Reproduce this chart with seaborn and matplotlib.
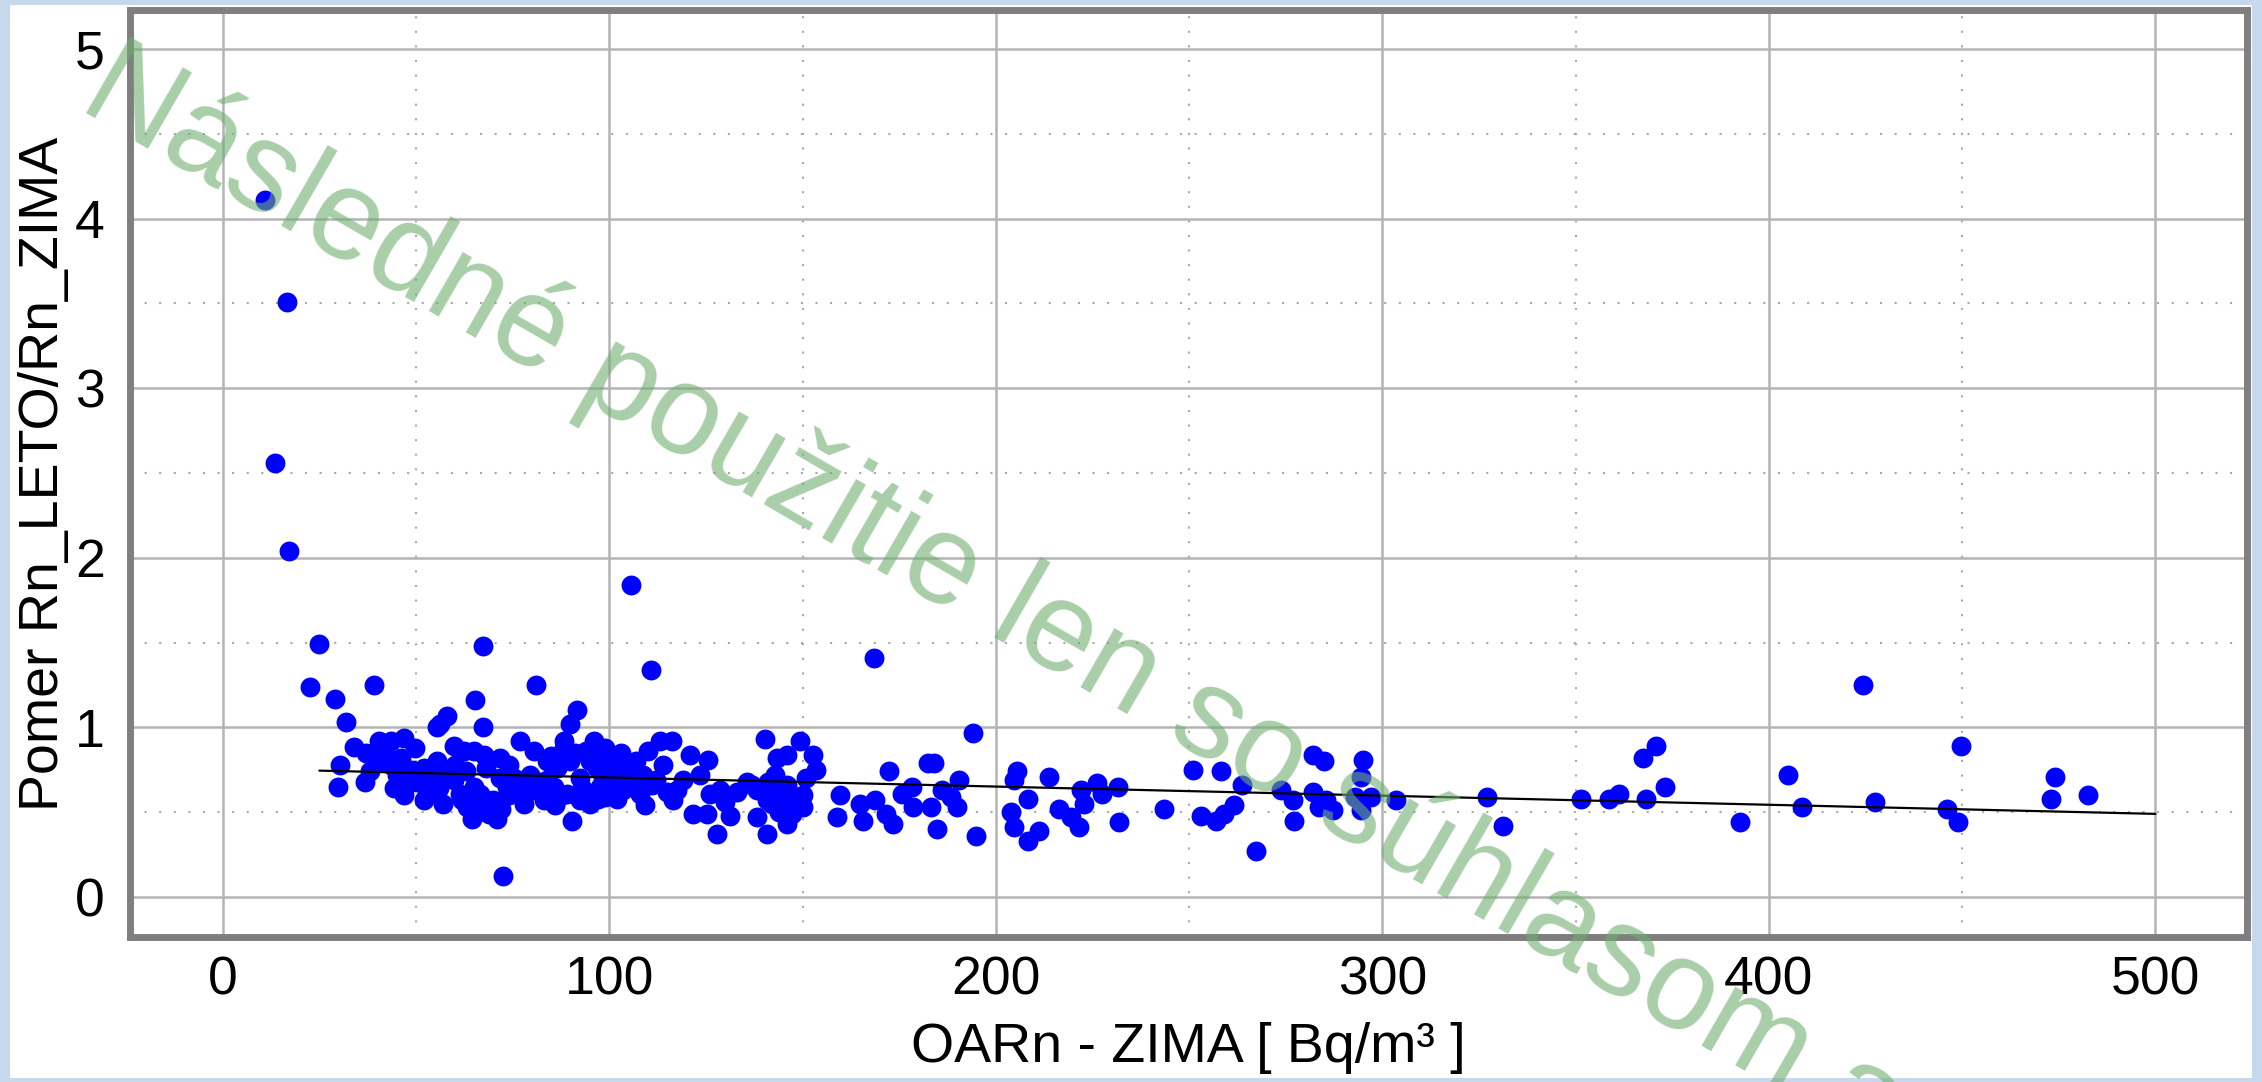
import matplotlib
matplotlib.use('Agg')
import numpy as np
import pandas as pd
import seaborn as sns
from matplotlib import pyplot as plt
from matplotlib.patches import Rectangle
from matplotlib.ticker import MultipleLocator

# OARn - ZIMA [Bq/m3] and ratio Rn_LETO/Rn_ZIMA
oarn_zima = [
    11, 16.7, 13.6, 17.2, 105.6, 25, 67.3, 168.5, 110.7, 22.5, 39, 81, 424.4, 29, 65.2, 72.4, 32,
    30.3, 29.7, 34, 36.9, 44.4, 40.3, 43.4, 46.8, 40.8, 43.4, 39, 49.8, 46, 52, 52.8, 52, 55.4,
    55.4, 58, 56.3, 59.7, 62.3, 64.9, 67.5, 71.8, 67.3, 58, 59.7, 61.5, 63.2, 64.5, 66.6, 68.3,
    70.9, 70, 73.5, 75.3, 71.8, 65, 77, 80.4, 83.9, 79.6, 77, 83, 80.4, 88.2, 91.6, 89.9, 88.2,
    89.9, 86.5, 89, 90.3, 92.5, 94.2, 96, 97.7, 96.8, 95, 97.7, 95, 85.6, 92.5,
    37, 42, 38, 49, 50, 54, 56, 48, 62, 66, 69, 72, 74, 76, 78, 84, 87, 86, 93, 97, 99, 94, 91,
    45, 47, 53, 57, 60, 63, 68, 74, 82, 85, 100, 103, 106, 110, 115, 130, 133, 142, 146, 151,
    98.9, 101, 98.4, 98.9, 101.9, 103.6, 107, 108.8, 108, 109.2, 112.2, 114, 113.1, 116.1, 120.9,
    125.6, 123.4, 117.4, 116.5, 126, 128.6, 121.7, 125.2, 131.2, 127.8, 140.3, 143.3, 145.9,
    149.3, 152.8, 153.6, 142.8, 135.5, 138.1, 140.7, 138.1, 140.7, 144.1, 145.9, 145.9, 148.4,
    150.2, 147.2, 159.7, 158.8, 164.8, 165.7, 168.7, 172.4, 171.7, 173.4, 175.6, 178.2, 178.6,
    182.5, 104, 111, 100, 105, 137, 141, 147, 150, 144, 119, 102,
    194.2, 184, 190.5, 186.2, 188.4, 183.2, 190, 184.9, 195, 205.6, 204.7, 208.2, 203.9, 204.7,
    208.2, 211.2, 213.8, 216.4, 219.4, 221.6, 222.8, 222, 226.3, 227.6, 231.5, 231.9, 243.5,
    250.9, 253, 258.2, 256.9, 259, 261.6, 263.8,
    267.2, 273.8, 276.8, 277.2, 282, 285, 282, 283.7, 287.2, 285.4, 292.8, 294.9, 294.5, 294.5,
    297.1, 303.5, 327.2, 331.1,
    351.3, 358.6, 361.3, 367.4, 370.8, 368.1, 373.2, 392.6, 404.9, 408.6, 427.4, 446.1, 449,
    449.6, 473.9, 473.1, 482.6,
]
pomer = [
    4.11, 3.51, 2.56, 2.04, 1.84, 1.49, 1.48, 1.41, 1.34, 1.24, 1.25, 1.25, 1.25, 1.17, 1.16, 0.125, 1.03,
    0.78, 0.646, 0.886, 0.68, 0.64, 0.92, 0.92, 0.94, 0.80, 0.78, 0.82, 0.88, 0.82, 0.76, 0.61, 0.57, 0.80,
    1.0, 1.07, 1.02, 0.89, 0.86, 0.86, 0.84, 0.82, 1.0, 0.72, 0.69, 0.61, 0.53, 0.46, 0.61, 0.53,
    0.46, 0.57, 0.65, 0.70, 0.70, 0.65, 0.92, 0.86, 0.80, 0.72, 0.61, 0.57, 0.63, 0.92, 1.10, 1.02, 0.88,
    0.80, 0.76, 0.61, 0.45, 0.70, 0.61, 0.92, 0.84, 0.76, 0.80, 0.65, 0.55, 0.65, 0.57,
    0.85, 0.86, 0.74, 0.75, 0.68, 0.70, 0.64, 0.70, 0.57, 0.50, 0.49, 0.52, 0.60, 0.66, 0.55, 0.69, 0.59, 0.54, 0.64, 0.58, 0.62, 0.86, 0.85,
    0.72, 0.60, 0.66, 0.55, 0.78, 0.74, 0.76, 0.78, 0.68, 0.83, 0.75, 0.85, 0.68, 0.86, 0.62, 0.56, 0.62, 0.55, 0.66, 0.70,
    0.88, 0.80, 0.70, 0.59, 0.72, 0.63, 0.80, 0.72, 0.61, 0.54, 0.69, 0.78, 0.92, 0.92, 0.84,
    0.81, 0.72, 0.63, 0.57, 0.61, 0.63, 0.49, 0.49, 0.48, 0.37, 0.93, 0.82, 0.84,
    0.92, 0.84, 0.75, 0.72, 0.68, 0.63, 0.57, 0.47, 0.37, 0.63, 0.53, 0.43, 0.57,
    0.53, 0.49, 0.60, 0.47, 0.55, 0.45, 0.57, 0.74, 0.49, 0.43, 0.61, 0.65, 0.53,
    0.79, 0.68, 0.66, 0.66, 0.75, 0.66, 0.68, 0.60, 0.60, 0.50, 0.69, 0.58,
    0.965, 0.79, 0.69, 0.63, 0.59, 0.53, 0.53, 0.40, 0.36, 0.74, 0.69, 0.58, 0.50, 0.41,
    0.33, 0.39, 0.71, 0.52, 0.47, 0.41, 0.55, 0.63, 0.67, 0.61, 0.65, 0.44, 0.52,
    0.75, 0.48, 0.74, 0.45, 0.49, 0.54, 0.66,
    0.27, 0.63, 0.57, 0.45, 0.84, 0.80, 0.62, 0.53, 0.51, 0.57, 0.59, 0.81, 0.71, 0.51,
    0.59, 0.57, 0.59, 0.42,
    0.58, 0.58, 0.61, 0.82, 0.89, 0.58, 0.65, 0.44, 0.72, 0.53, 0.56, 0.52, 0.44,
    0.89, 0.71, 0.58, 0.60,
]
# fitted trend line end points
trend_x = [25, 500]
trend_y = [0.745, 0.49]

x_ticks = [0, 100, 200, 300, 400, 500]
y_ticks = [0, 1, 2, 3, 4, 5]
watermark = 'Následné použitie len so súhlasom a'

sns.set_style('white')
plt.rcParams['font.family'] = ['Liberation Sans', 'DejaVu Sans']

W, H = 2262, 1082
fig = plt.figure(figsize=(W / 100, H / 100), dpi=100, facecolor='#c6d9ec')
fig.patches.append(Rectangle((10 / W, 4 / H), 2242 / W, 1073 / H, transform=fig.transFigure,
                             facecolor='white', edgecolor='none', zorder=-5))
ax = fig.add_axes([130 / W, 1 - 937 / H, 2117 / W, 927 / H])

df = pd.DataFrame({'x': oarn_zima, 'y': pomer})
sns.scatterplot(data=df, x='x', y='y', color='#0000ff', s=205, linewidth=0, ax=ax, zorder=3)
sns.lineplot(x=trend_x, y=trend_y, color='black', linewidth=1.6, ax=ax, zorder=4)

ax.set_xlim(-24, 523.7)
ax.set_ylim(-0.236, 5.23)
ax.set_xticks(x_ticks)
ax.set_yticks(y_ticks)
ax.xaxis.set_minor_locator(MultipleLocator(50))
ax.yaxis.set_minor_locator(MultipleLocator(0.5))
ax.grid(which='major', color='#b4b4b4', linewidth=1.8)
ax.grid(which='minor', color='#a8a8a8', linewidth=1.5, linestyle=(0, (1, 6)))
ax.set_axisbelow(True)
ax.tick_params(which='both', length=0, labelsize=38.5, labelcolor='black')
ax.tick_params(axis='x', pad=13.5)
ax.tick_params(axis='y', pad=18)
for sp in ax.spines.values():
    sp.set_visible(True)
    sp.set_color('#7f7f7f')
    sp.set_linewidth(5)

ax.set_xlabel('OARn - ZIMA [ Bq/m³ ]', fontsize=40, labelpad=12, color='black')
ax.set_ylabel('Pomer Rn_LETO/Rn_ZIMA', fontsize=40, labelpad=4, color='black')

fig.text(0.034, 0.9005, watermark, fontsize=92, color='#6fae6f', alpha=0.6,
         rotation=-30, rotation_mode='anchor', ha='left', va='baseline', zorder=10)

fig.savefig('out.png', dpi=100, facecolor=fig.get_facecolor())
